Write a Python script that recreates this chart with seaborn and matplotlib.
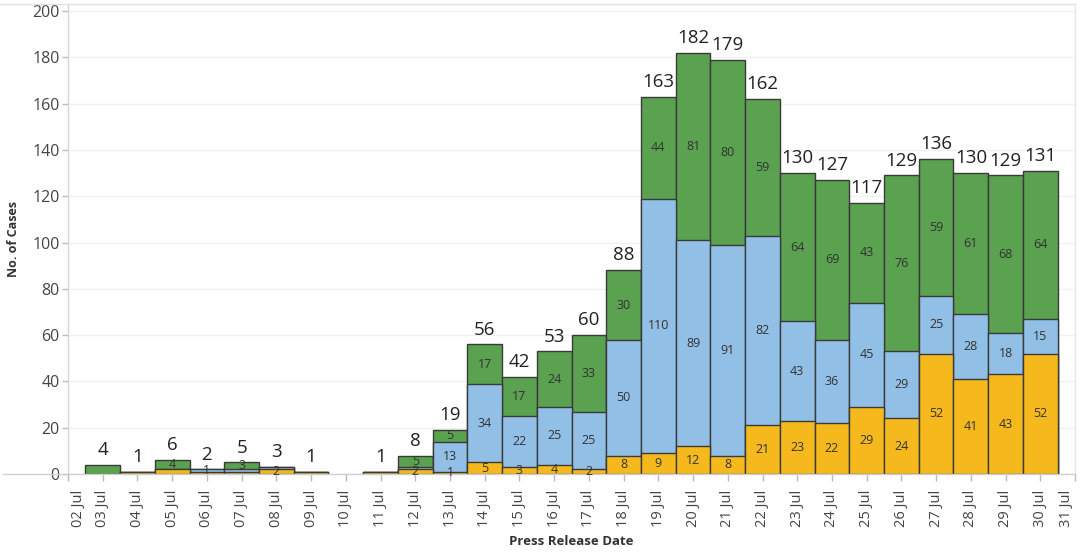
import pandas as pd
import matplotlib.pyplot as plt
import seaborn as sns
from matplotlib.lines import Line2D
from matplotlib.transforms import ScaledTranslation

# ── Data ─────────────────────────────────────────
dates = ["02 Jul", "03 Jul", "04 Jul", "05 Jul", "06 Jul", "07 Jul", "08 Jul",
         "09 Jul", "10 Jul", "11 Jul", "12 Jul", "13 Jul", "14 Jul", "15 Jul",
         "16 Jul", "17 Jul", "18 Jul", "19 Jul", "20 Jul", "21 Jul", "22 Jul",
         "23 Jul", "24 Jul", "25 Jul", "26 Jul", "27 Jul", "28 Jul", "29 Jul",
         "30 Jul", "31 Jul"]
yellow_cases = [0, 0, 1, 2, 1, 1, 2, 1, 0, 1, 2, 1, 5, 3, 4, 2, 8, 9, 12, 8,
                21, 23, 22, 29, 24, 52, 41, 43, 52, 0]
blue_cases = [0, 0, 0, 0, 1, 1, 1, 0, 0, 0, 1, 13, 34, 22, 25, 25, 50, 110, 89,
              91, 82, 43, 36, 45, 29, 25, 28, 18, 15, 0]
green_cases = [0, 4, 0, 4, 0, 3, 0, 0, 0, 0, 5, 5, 17, 17, 24, 33, 30, 44, 81,
               80, 59, 64, 69, 43, 76, 59, 61, 68, 64, 0]
# segment labels that the original hides (too small to fit)
hidden_labels = [("03 Jul", "green"), ("04 Jul", "yellow"), ("05 Jul", "yellow"),
                 ("06 Jul", "yellow"), ("07 Jul", "yellow"), ("07 Jul", "blue"),
                 ("08 Jul", "blue"), ("09 Jul", "yellow"), ("11 Jul", "yellow"),
                 ("12 Jul", "blue")]

YELLOW = "#f5b91e"
BLUE = "#92bfe5"
GREEN = "#5aa150"
EDGE = "#3a3a3a"

df = pd.DataFrame({"date": dates, "yellow": yellow_cases,
                   "blue": blue_cases, "green": green_cases})
df["low"] = df["yellow"]
df["mid"] = df["yellow"] + df["blue"]
df["top"] = df["mid"] + df["green"]

sns.set_style("white")
plt.rcParams["font.family"] = ["Open Sans", "DejaVu Sans"]

fig = plt.figure(figsize=(10.8, 5.59), dpi=100)
ax = fig.add_axes([0.063, 0.152, 0.9324, 0.8408])

# ── Stacked bars (tallest first, overlaid) ──────
for col, color in [("top", GREEN), ("mid", BLUE), ("low", YELLOW)]:
    sub = df[df[col] > 0]
    sns.barplot(data=sub, x="date", y=col, order=dates, color=color,
                saturation=1, width=1, edgecolor=EDGE, linewidth=1, ax=ax)

# ── Labels ───────────────────────────────────────
for i, row in df.iterrows():
    if row["top"] > 0:
        ax.text(i, row["top"] + 2.5, str(row["top"]), ha="center", va="bottom",
                fontsize=13.5, color="#222222")
    bottom = 0
    for name in ["yellow", "blue", "green"]:
        v = row[name]
        if v > 0 and (row["date"], name) not in hidden_labels:
            ax.text(i, bottom + v / 2, str(v), ha="center", va="center",
                    fontsize=9, color="#333333")
        bottom += v

# ── Axes styling ─────────────────────────────────
ax.set_xlim(0, len(dates) - 1)
ax.set_ylim(0, 203)
ax.set_yticks(range(0, 201, 20))
ax.yaxis.grid(True, color="#f1f1f1", linewidth=1)
ax.set_axisbelow(True)

ax.tick_params(axis="y", labelsize=11.5, labelcolor="#444444", length=4,
               width=1, color="#bbbbbb", left=True, pad=2)
ax.tick_params(axis="x", labelsize=10.5, labelcolor="#444444", length=5,
               width=1, color="#bbbbbb", bottom=True, pad=6)
ax.set_xticks(range(len(dates)))
ax.set_xticklabels(dates, rotation=90)

# first and last date labels are nudged inside the plot, as in the original
labels = ax.get_xticklabels()
labels[0].set_transform(labels[0].get_transform()
                        + ScaledTranslation(0.10, 0, fig.dpi_scale_trans))
labels[-1].set_transform(labels[-1].get_transform()
                         + ScaledTranslation(-0.09, 0, fig.dpi_scale_trans))

for side, c in [("left", "#d6d6d6"), ("bottom", "#cfcfcf"),
                ("top", "#e2e2e2"), ("right", "#e6e6e6")]:
    ax.spines[side].set_color(c)
    ax.spines[side].set_linewidth(1)

ax.set_ylabel("No. of Cases", fontsize=9, fontweight="bold", color="#333333")
ax.set_xlabel("Press Release Date", fontsize=9.5, fontweight="bold",
              color="#333333")
ax.yaxis.set_label_coords(-0.0477, 0.5)
ax.xaxis.set_label_coords(0.5, -0.13)

# pane borders running past the plot area, as in the original
fig.add_artist(Line2D([0.003, 0.063], [0.152, 0.152], color="#cfcfcf", lw=1,
                      transform=fig.transFigure))
fig.add_artist(Line2D([0.0, 0.063], [0.9928, 0.9928], color="#e2e2e2", lw=1,
                      transform=fig.transFigure))

fig.savefig("out.png", dpi=100)
